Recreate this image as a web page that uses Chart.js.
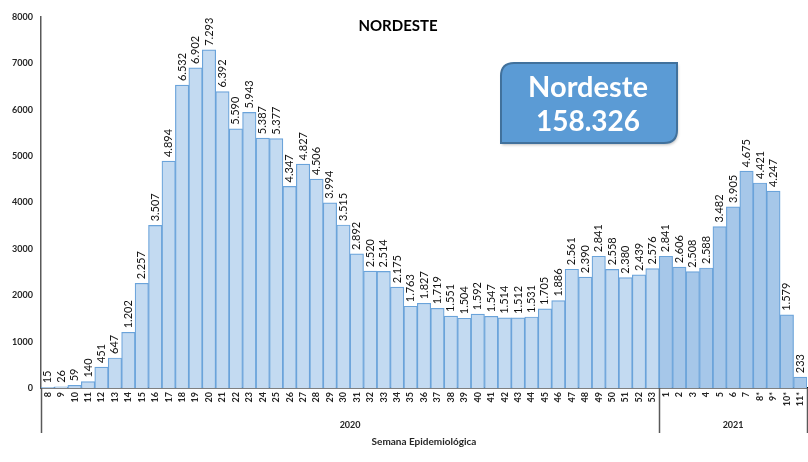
<!DOCTYPE html>
<html>
<head>
<meta charset="utf-8">
<script src="https://cdn.jsdelivr.net/npm/chart.js@4/dist/chart.umd.min.js"></script>
<style>
html,body{margin:0;padding:0;background:#fff;}
#wrap{width:808px;height:462px;}
</style>
</head>
<body>
<div id="wrap"><canvas id="c" width="808" height="462"></canvas></div>
<script>
const chartTitle = 'NORDESTE';
const boxLines = ['Nordeste', '158.326'];
const xAxisTitle = 'Semana Epidemiológica';
const groupNames = ['2020', '2021'];
const weeks2020 = ['8','9','10','11','12','13','14','15','16','17','18','19','20','21','22','23','24','25','26','27','28','29','30','31','32','33','34','35','36','37','38','39','40','41','42','43','44','45','46','47','48','49','50','51','52','53'];
const cases2020 = [15,26,59,140,451,647,1202,2257,3507,4894,6532,6902,7293,6392,5590,5943,5387,5377,4347,4827,4506,3994,3515,2892,2520,2514,2175,1763,1827,1719,1551,1504,1592,1547,1514,1512,1531,1705,1886,2561,2390,2841,2558,2380,2439,2576];
const weeks2021 = ['1','2','3','4','5','6','7','8*','9*','10*','11*'];
const cases2021 = [2841,2606,2508,2588,3482,3905,4675,4421,4247,1579,233];
const yTicks = [0,1000,2000,3000,4000,5000,6000,7000,8000];

const FONT = 'Lato, "Open Sans", sans-serif';
const labels = weeks2020.concat(weeks2021);
const values = cases2020.concat(cases2021);
const fills = cases2020.map(() => '#c3daf1').concat(cases2021.map(() => '#a6c7e9'));
const borders = values.map(() => '#6aa3da');

function fmt(v){ return String(v).replace(/\B(?=(\d{3})+(?!\d))/g, '.'); }

function roundDiag(ctx, x, y, w, h, r){
  ctx.beginPath();
  ctx.moveTo(x + r, y);
  ctx.lineTo(x + w, y);
  ctx.lineTo(x + w, y + h - r);
  ctx.quadraticCurveTo(x + w, y + h, x + w - r, y + h);
  ctx.lineTo(x, y + h);
  ctx.lineTo(x, y + r);
  ctx.quadraticCurveTo(x, y, x + r, y);
  ctx.closePath();
}

const decor = {
  id: 'decor',
  afterDatasetsDraw(chart){
    const ctx = chart.ctx;
    const meta = chart.getDatasetMeta(0);
    ctx.save();
    ctx.font = '11px ' + FONT;
    ctx.fillStyle = '#111';
    ctx.textAlign = 'left';
    ctx.textBaseline = 'middle';
    meta.data.forEach((bar, i) => {
      ctx.save();
      ctx.translate(bar.x, bar.y - 4);
      ctx.rotate(-Math.PI / 2);
      ctx.fillText(fmt(values[i]), 0, 0);
      ctx.restore();
    });
    ctx.restore();
  },
  afterDraw(chart){
    const ctx = chart.ctx;
    const area = chart.chartArea;
    const n1 = weeks2020.length;
    const bw = (area.right - area.left) / labels.length;
    const divs = [area.left, area.left + n1 * bw, area.right];
    ctx.save();
    ctx.strokeStyle = '#595959';
    ctx.lineWidth = 1.5;
    divs.forEach(d => {
      ctx.beginPath();
      ctx.moveTo(Math.round(d) + 0.5, area.bottom);
      ctx.lineTo(Math.round(d) + 0.5, area.bottom + 45);
      ctx.stroke();
    });
    ctx.fillStyle = '#262626';
    ctx.font = 'bold 9px ' + FONT;
    ctx.textAlign = 'center';
    ctx.textBaseline = 'middle';
    ctx.fillText(groupNames[0], (divs[0] + divs[1]) / 2, 425);
    ctx.fillText(groupNames[1], (divs[1] + divs[2]) / 2, 425);
    ctx.font = 'bold 10px ' + FONT;
    ctx.fillText(xAxisTitle, (area.left + area.right) / 2, 442);
    ctx.fillStyle = '#000';
    ctx.font = 'bold 15px ' + FONT;
    ctx.fillText(chartTitle, 398, 26);
    ctx.shadowColor = 'rgba(0,0,0,0.25)';
    ctx.shadowBlur = 3;
    ctx.shadowOffsetX = 1;
    ctx.shadowOffsetY = 2;
    roundDiag(ctx, 501, 63, 176, 80, 13);
    ctx.fillStyle = '#5b9bd5';
    ctx.fill();
    ctx.shadowColor = 'transparent';
    ctx.strokeStyle = '#41719c';
    ctx.lineWidth = 2;
    ctx.stroke();
    ctx.fillStyle = '#ffffff';
    ctx.font = 'bold 29px ' + FONT;
    ctx.fillText(boxLines[0], 588, 88);
    ctx.font = 'bold 28px ' + FONT;
    ctx.fillText(boxLines[1], 588, 122);
    ctx.restore();
  }
};

new Chart(document.getElementById('c'), {
  type: 'bar',
  data: {
    labels: labels,
    datasets: [{
      data: values,
      backgroundColor: fills,
      borderColor: borders,
      borderWidth: 1.2,
      borderSkipped: 'bottom',
      categoryPercentage: 1.0,
      barPercentage: 1.0
    }]
  },
  options: {
    responsive: false,
    animation: false,
    devicePixelRatio: 1,
    layout: { padding: { top: 17, right: 1, left: 0, bottom: 0 } },
    plugins: { legend: { display: false }, title: { display: false }, tooltip: { enabled: false } },
    scales: {
      x: {
        grid: { display: false, drawTicks: false },
        border: { display: true, color: '#000', width: 1.5 },
        ticks: {
          autoSkip: false, minRotation: 90, maxRotation: 90, padding: 4,
          color: '#262626', font: { family: FONT, size: 9, weight: 'bold' }
        },
        afterFit(s){ s.height = 74; s.paddingLeft = 0; s.paddingRight = 0; }
      },
      y: {
        min: 0, max: 8000,
        afterBuildTicks(s){ s.ticks = yTicks.map(v => ({ value: v })); },
        grid: { display: false, drawTicks: false },
        border: { display: true, color: '#595959', width: 1.5 },
        ticks: {
          padding: 8, color: '#262626',
          font: { family: FONT, size: 9, weight: 'bold' },
          callback: v => String(v)
        },
        afterFit(s){ s.width = 41; s.paddingTop = 0; s.paddingBottom = 0; }
      }
    }
  },
  plugins: [decor]
});
</script>
</body>
</html>
